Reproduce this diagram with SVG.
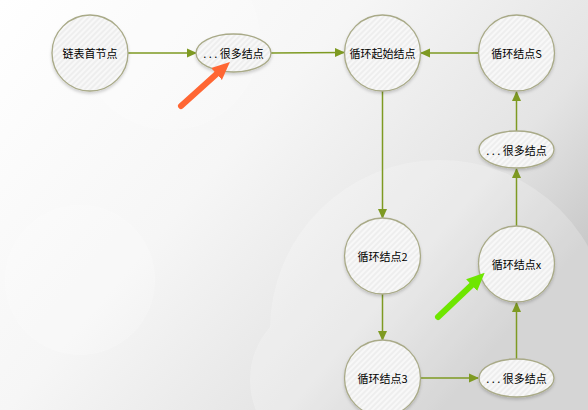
<svg xmlns="http://www.w3.org/2000/svg" width="588" height="410" viewBox="0 0 588 410">
<defs>
<linearGradient id="bg" x1="0" y1="0" x2="1" y2="0.6">
<stop offset="0" stop-color="#ffffff"/>
<stop offset="0.45" stop-color="#f6f6f6"/>
<stop offset="0.8" stop-color="#e4e4e4"/>
<stop offset="1" stop-color="#c9c9c9"/>
</linearGradient>
<pattern id="hatch" width="4" height="4" patternUnits="userSpaceOnUse" patternTransform="rotate(45)">
<rect width="4" height="4" fill="#eeeeee"/>
<rect width="2" height="4" fill="#f8f8f8"/>
</pattern>
<filter id="sh" x="-20%" y="-20%" width="140%" height="150%">
<feDropShadow dx="0" dy="2" stdDeviation="1.5" flood-color="#000" flood-opacity="0.18"/>
</filter>
<marker id="ah" markerWidth="10" markerHeight="10" refX="9" refY="5" orient="auto" markerUnits="userSpaceOnUse">
<path d="M0,0.5 L10,5 L0,9.5 Z" fill="#7e9a22"/>
</marker>
<marker id="big-o" markerWidth="18" markerHeight="18" refX="6" refY="9" orient="auto" markerUnits="userSpaceOnUse">
<path d="M0,1 L18,9 L0,17 Z" fill="#ff6633"/>
</marker>
<marker id="big-g" markerWidth="18" markerHeight="18" refX="6" refY="9" orient="auto" markerUnits="userSpaceOnUse">
<path d="M0,1 L18,9 L0,17 Z" fill="#6ee600"/>
</marker>
</defs>
<style>
.node{fill:url(#hatch);stroke:#a9aa88;stroke-width:1.3;filter:url(#sh)}
.lbl{font-family:"Noto Sans CJK SC","Liberation Sans",sans-serif;font-size:11px;fill:#000;text-anchor:middle;dominant-baseline:central}
.edge{stroke:#7e9a22;stroke-width:1.5;fill:none;marker-end:url(#ah)}
</style>
<rect width="588" height="410" fill="url(#bg)"/>
<g fill="#ffffff" opacity="0.22">
<circle cx="440" cy="330" r="170"/>
<circle cx="80" cy="280" r="75"/>
<circle cx="170" cy="40" r="90"/>
<circle cx="330" cy="380" r="80"/>
</g>

<g id="connectors">
<line class="edge" x1="128" y1="53" x2="196" y2="53"/>
<line class="edge" x1="271" y1="53" x2="344" y2="52.5"/>
<line class="edge" x1="479" y1="53" x2="421" y2="53"/>
<line class="edge" x1="382.5" y1="91" x2="382.5" y2="218"/>
<line class="edge" x1="382.5" y1="294" x2="382.5" y2="340"/>
<line class="edge" x1="420" y1="378" x2="478" y2="378"/>
<line class="edge" x1="516.5" y1="359" x2="516.5" y2="303"/>
<line class="edge" x1="516.5" y1="226" x2="516.5" y2="169"/>
<line class="edge" x1="516.5" y1="131" x2="516.5" y2="92"/>
</g>

<g id="n-head"><circle class="node" cx="90" cy="53" r="38"/><text class="lbl" x="90" y="53">链表首节点</text></g>
<g id="n-many1"><ellipse class="node" cx="233.5" cy="53" rx="37.5" ry="19"/><text class="lbl" x="233.5" y="53">. . . 很多结点</text></g>
<g id="n-start"><circle class="node" cx="382.5" cy="53" r="38"/><text class="lbl" x="382.5" y="53">循环起始结点</text></g>
<g id="n-s"><circle class="node" cx="516.5" cy="53" r="38"/><text class="lbl" x="516.5" y="53">循环结点S</text></g>
<g id="n-many2"><ellipse class="node" cx="516.5" cy="149.5" rx="37.5" ry="18.5"/><text class="lbl" x="516.5" y="149.5">. . . 很多结点</text></g>
<g id="n-x"><circle class="node" cx="516.5" cy="264" r="38"/><text class="lbl" x="516.5" y="264">循环结点x</text></g>
<g id="n-2"><circle class="node" cx="382.5" cy="256" r="38"/><text class="lbl" x="382.5" y="256">循环结点2</text></g>
<g id="n-3"><circle class="node" cx="382.5" cy="378" r="38"/><text class="lbl" x="382.5" y="378">循环结点3</text></g>
<g id="n-many3"><ellipse class="node" cx="516.5" cy="378" rx="37.5" ry="19"/><text class="lbl" x="516.5" y="378">. . . 很多结点</text></g>

<g id="pointers">
<line x1="181" y1="106" x2="221" y2="70" stroke="#ff6633" stroke-width="6" stroke-linecap="round" marker-end="url(#big-o)"/>
<line x1="438" y1="317" x2="476" y2="281" stroke="#6ee600" stroke-width="6" stroke-linecap="round" marker-end="url(#big-g)"/>
</g>
</svg>
